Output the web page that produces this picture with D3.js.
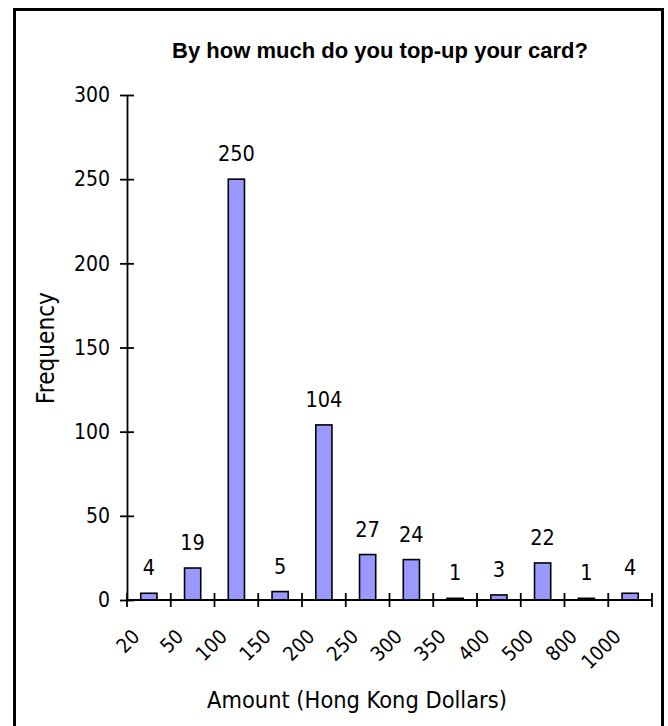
<!DOCTYPE html>
<html>
<head>
<meta charset="utf-8">
<script src="https://cdn.jsdelivr.net/npm/d3@7"></script>
<style>
  html, body { margin: 0; padding: 0; background: #fff; }
  svg { display: block; }
  .t { font-family: "DejaVu Sans Condensed", "DejaVu Sans", sans-serif; font-stretch: condensed; fill: #000; }
  .title { font-family: "Liberation Sans", Arial, sans-serif; font-weight: bold; fill: #000; }
</style>
</head>
<body>
<script>
const categories = ["20", "50", "100", "150", "200", "250", "300", "350", "400", "500", "800", "1000"];
const frequencies = [4, 19, 250, 5, 104, 27, 24, 1, 3, 22, 1, 4];
const yTicks = [0, 50, 100, 150, 200, 250, 300];
const titleText = "By how much do you top-up your card?";
const xTitle = "Amount (Hong Kong Dollars)";
const yTitle = "Frequency";

const W = 668, H = 726;
const svg = d3.select("body").append("svg").attr("width", W).attr("height", H);

// outer frame (bottom edge falls outside the picture)
svg.append("rect").attr("x", 14.5).attr("y", 9.5).attr("width", 648).attr("height", 740)
  .attr("fill", "none").attr("stroke", "#000").attr("stroke-width", 3);

const plotL = 127, plotR = 652, plotB = 600, plotT = 95;

const x = d3.scaleBand().domain(categories).range([plotL, plotR])
  .paddingInner(0.63).paddingOuter(0.315);
const step = x.step();
const y = d3.scaleLinear().domain([0, 300]).range([plotB, plotT]);

function fit(sel, target) {
  const n = sel.node();
  const fs = parseFloat(sel.attr("font-size"));
  const len = n.getComputedTextLength();
  sel.attr("font-size", (fs * target / len).toFixed(2));
}

// bars
svg.append("g").selectAll("rect").data(frequencies).join("rect")
  .attr("x", (d, i) => x(categories[i]))
  .attr("y", d => y(d))
  .attr("width", x.bandwidth())
  .attr("height", d => y(0) - y(d))
  .attr("fill", "#9999ff")
  .attr("stroke", "#000")
  .attr("stroke-width", 1.6);

// y axis
const gy = svg.append("g").attr("transform", `translate(${plotL},0)`)
  .call(d3.axisLeft(y).tickValues(yTicks).tickSize(0).tickPadding(17));
gy.select(".domain").attr("stroke", "#000").attr("stroke-width", 1.8);
gy.selectAll(".tick text").attr("class", "t").attr("font-size", 21);
gy.selectAll(".tick").append("line").attr("x1", -7).attr("x2", 7)
  .attr("stroke", "#000").attr("stroke-width", 1.8);

// x axis line and boundary ticks
svg.append("line").attr("x1", plotL).attr("x2", plotR).attr("y1", plotB).attr("y2", plotB)
  .attr("stroke", "#000").attr("stroke-width", 1.8);
const bounds = d3.range(categories.length + 1).map(i => plotL + i * step);
svg.append("g").selectAll("line").data(bounds).join("line")
  .attr("x1", d => d).attr("x2", d => d).attr("y1", plotB - 7).attr("y2", plotB + 7)
  .attr("stroke", "#000").attr("stroke-width", 1.8);

// x tick labels rotated
svg.append("g").selectAll("text").data(categories).join("text")
  .attr("class", "t").attr("font-size", 20)
  .attr("text-anchor", "end")
  .attr("transform", d => `translate(${x(d) + x.bandwidth() / 2 - 8},${plotB + 38}) rotate(-45)`)
  .text(d => d);

// value labels
svg.append("g").selectAll("text").data(frequencies).join("text")
  .attr("class", "t").attr("font-size", 21.5)
  .attr("text-anchor", "middle")
  .attr("x", (d, i) => x(categories[i]) + x.bandwidth() / 2)
  .attr("y", d => y(d) - 18)
  .text(d => d);

// title
const tt = svg.append("text").attr("class", "title").attr("font-size", 18)
  .attr("x", 380).attr("y", 58).attr("text-anchor", "middle").text(titleText);
fit(tt, 416);

// axis titles
const xt = svg.append("text").attr("class", "t").attr("font-size", 19.5)
  .attr("x", 357).attr("y", 708).attr("text-anchor", "middle").text(xTitle);
fit(xt, 300);

const yt = svg.append("text").attr("class", "t").attr("font-size", 19.5)
  .attr("text-anchor", "middle")
  .attr("transform", `translate(54,348) rotate(-90)`).text(yTitle);
fit(yt, 112);
</script>
</body>
</html>
